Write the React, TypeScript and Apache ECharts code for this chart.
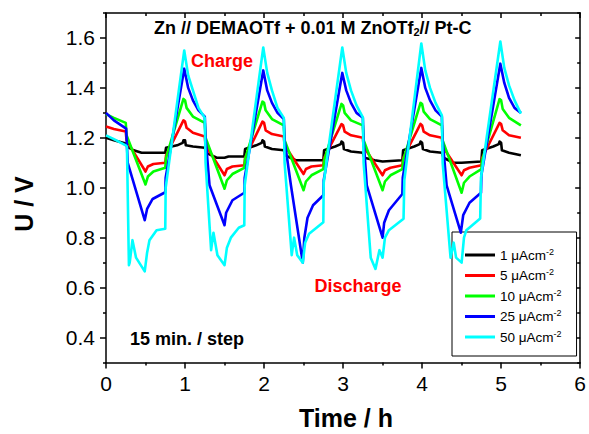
import React, { useEffect, useRef } from "react";
import * as echarts from "echarts";

const FONT = '"Liberation Sans", Arial, Helvetica, sans-serif';

const legendLabels = ["1", "5", "10", "25", "50"];
const seriesColors = ["#000000", "#ff0000", "#00ff00", "#0000ff", "#00ffff"];

const xTicks = [0, 1, 2, 3, 4, 5, 6];
const yMajorTicks = [0.4, 0.6, 0.8, 1.0, 1.2, 1.4, 1.6];
const yMinorTicks = [0.3, 0.5, 0.7, 0.9, 1.1, 1.3, 1.5, 1.7];

const black1: number[][] = [
  [0, 1.2], [0.1, 1.19], [0.25, 1.177], [0.27, 1.165], [0.35, 1.15], [0.45, 1.14], [0.5, 1.14], [0.6, 1.14], [0.75, 1.14],
  [0.76, 1.16], [0.9, 1.17], [0.97, 1.18], [0.98, 1.19], [1.0, 1.19], [1.01, 1.17], [1.1, 1.165], [1.25, 1.16],
  [1.27, 1.14], [1.4, 1.12], [1.5, 1.12], [1.55, 1.125], [1.75, 1.125],
  [1.76, 1.155], [1.9, 1.17], [1.97, 1.18], [1.98, 1.19], [2.0, 1.185], [2.01, 1.165], [2.1, 1.155], [2.25, 1.15],
  [2.27, 1.13], [2.4, 1.11], [2.5, 1.11], [2.75, 1.11],
  [2.76, 1.15], [2.9, 1.165], [2.97, 1.175], [2.98, 1.185], [3.0, 1.18], [3.01, 1.155], [3.1, 1.145], [3.25, 1.14],
  [3.27, 1.12], [3.4, 1.11], [3.5, 1.105], [3.75, 1.11],
  [3.76, 1.15], [3.9, 1.165], [3.97, 1.175], [3.98, 1.185], [4.0, 1.18], [4.01, 1.155], [4.1, 1.145], [4.25, 1.14],
  [4.27, 1.12], [4.4, 1.1], [4.5, 1.1], [4.75, 1.105],
  [4.76, 1.15], [4.9, 1.165], [4.97, 1.175], [4.98, 1.185], [5.0, 1.18], [5.01, 1.15], [5.1, 1.14], [5.25, 1.13],
];

const red5: number[][] = [
  [0, 1.245], [0.1, 1.235], [0.25, 1.225], [0.26, 1.19], [0.5, 1.065], [0.53, 1.085], [0.6, 1.095], [0.75, 1.1],
  [0.76, 1.13], [0.98, 1.27], [1.0, 1.265], [1.02, 1.24], [1.1, 1.22], [1.25, 1.205],
  [1.26, 1.17], [1.5, 1.05], [1.53, 1.075], [1.6, 1.085], [1.75, 1.09],
  [1.76, 1.12], [1.98, 1.265], [2.0, 1.26], [2.02, 1.23], [2.1, 1.215], [2.25, 1.205],
  [2.26, 1.17], [2.5, 1.055], [2.53, 1.075], [2.6, 1.085], [2.75, 1.09],
  [2.76, 1.12], [2.98, 1.255], [3.0, 1.25], [3.02, 1.225], [3.1, 1.21], [3.25, 1.2],
  [3.26, 1.165], [3.5, 1.05], [3.53, 1.07], [3.6, 1.08], [3.75, 1.09],
  [3.76, 1.12], [3.98, 1.256], [4.0, 1.25], [4.02, 1.225], [4.1, 1.21], [4.25, 1.2],
  [4.26, 1.165], [4.5, 1.05], [4.53, 1.07], [4.6, 1.08], [4.75, 1.09],
  [4.76, 1.12], [4.98, 1.26], [5.0, 1.255], [5.02, 1.23], [5.1, 1.21], [5.25, 1.2],
];

const green10: number[][] = [
  [0, 1.295], [0.1, 1.28], [0.25, 1.26], [0.26, 1.21], [0.5, 1.013], [0.53, 1.045], [0.6, 1.065], [0.75, 1.08],
  [0.76, 1.12], [0.98, 1.356], [1.0, 1.35], [1.02, 1.32], [1.1, 1.285], [1.25, 1.26],
  [1.26, 1.2], [1.5, 0.996], [1.53, 1.03], [1.6, 1.055], [1.75, 1.08],
  [1.76, 1.115], [1.98, 1.345], [2.0, 1.34], [2.02, 1.31], [2.1, 1.275], [2.25, 1.25],
  [2.26, 1.19], [2.5, 0.99], [2.53, 1.025], [2.6, 1.05], [2.75, 1.075],
  [2.76, 1.11], [2.98, 1.336], [3.0, 1.33], [3.02, 1.3], [3.1, 1.27], [3.25, 1.25],
  [3.26, 1.19], [3.5, 0.99], [3.53, 1.025], [3.6, 1.05], [3.75, 1.075],
  [3.76, 1.11], [3.98, 1.34], [4.0, 1.335], [4.02, 1.305], [4.1, 1.275], [4.25, 1.25],
  [4.26, 1.19], [4.5, 0.98], [4.53, 1.02], [4.6, 1.045], [4.75, 1.075],
  [4.76, 1.11], [4.98, 1.355], [5.0, 1.35], [5.02, 1.315], [5.1, 1.28], [5.25, 1.25],
];

const blue25: number[][] = [
  [0, 1.3], [0.1, 1.27], [0.255, 1.237], [0.275, 1.1], [0.49, 0.87], [0.52, 0.915], [0.59, 0.955], [0.75, 0.982],
  [0.755, 1.04], [0.99, 1.477], [1.04, 1.4], [1.1, 1.35], [1.17, 1.31], [1.25, 1.285],
  [1.26, 1.2], [1.31, 1.01], [1.5, 0.85], [1.52, 0.9], [1.6, 0.95], [1.75, 0.98],
  [1.755, 1.04], [1.99, 1.47], [2.04, 1.39], [2.1, 1.34], [2.17, 1.3], [2.25, 1.275],
  [2.26, 1.19], [2.34, 1.01], [2.49, 0.7], [2.51, 0.8], [2.55, 0.88], [2.62, 0.93], [2.75, 0.97],
  [2.755, 1.03], [2.99, 1.46], [3.04, 1.39], [3.1, 1.34], [3.17, 1.3], [3.25, 1.28],
  [3.26, 1.19], [3.3, 1.01], [3.5, 0.8], [3.52, 0.86], [3.58, 0.91], [3.75, 0.975],
  [3.755, 1.04], [3.99, 1.48], [4.04, 1.4], [4.1, 1.35], [4.17, 1.31], [4.25, 1.285],
  [4.26, 1.19], [4.31, 1.01], [4.49, 0.82], [4.52, 0.89], [4.6, 0.94], [4.745, 0.98],
  [4.75, 1.05], [4.99, 1.497], [5.04, 1.42], [5.1, 1.36], [5.17, 1.32], [5.25, 1.3],
];

const cyan50: number[][] = [
  [0, 1.21], [0.1, 1.195], [0.25, 1.17], [0.265, 1.165], [0.29, 0.69], [0.3, 0.7], [0.335, 0.79], [0.38, 0.72], [0.49, 0.665],
  [0.52, 0.74], [0.55, 0.79], [0.64, 0.83], [0.75, 0.836],
  [0.755, 1.0], [0.99, 1.55], [1.04, 1.45], [1.1, 1.39], [1.17, 1.32], [1.25, 1.28],
  [1.26, 1.1], [1.33, 0.75], [1.36, 0.82], [1.41, 0.73], [1.5, 0.69], [1.53, 0.76], [1.58, 0.8], [1.68, 0.84], [1.75, 0.85],
  [1.755, 1.01], [1.99, 1.562], [2.04, 1.46], [2.1, 1.39], [2.17, 1.32], [2.25, 1.28],
  [2.26, 1.1], [2.35, 0.73], [2.38, 0.8], [2.42, 0.73], [2.49, 0.7], [2.52, 0.78], [2.57, 0.816], [2.75, 0.862],
  [2.755, 1.02], [2.99, 1.562], [3.04, 1.46], [3.1, 1.39], [3.17, 1.33], [3.25, 1.282],
  [3.26, 1.1], [3.35, 0.72], [3.41, 0.675], [3.46, 0.75], [3.5, 0.72], [3.53, 0.8], [3.58, 0.83], [3.765, 0.876],
  [3.775, 1.03], [3.99, 1.578], [4.04, 1.47], [4.1, 1.4], [4.17, 1.34], [4.25, 1.29],
  [4.26, 1.1], [4.36, 0.72], [4.4, 0.78], [4.43, 0.72], [4.5, 0.7], [4.53, 0.8], [4.56, 0.83], [4.735, 0.877],
  [4.745, 1.04], [4.99, 1.586], [5.04, 1.48], [5.1, 1.41], [5.17, 1.35], [5.25, 1.297],
];

const seriesData = [black1, red5, green10, blue25, cyan50];

export default function App() {
  const ref = useRef<HTMLDivElement>(null);

  useEffect(() => {
    if (!ref.current) return;
    const chart = echarts.init(ref.current, undefined, { renderer: "svg" });
    const names = legendLabels.map((l) => `${l} μAcm-2`);
    const axisLineStyle = { color: "#000", width: 1.5 };
    const yBase = { type: "value", min: 0.3, max: 1.7, splitLine: { show: false } };

    const option: any = {
      animation: false,
      backgroundColor: "#fff",
      grid: { left: 106, top: 13, right: 6.5, bottom: 71.5, containLabel: false },
      legend: {
        data: names,
        orient: "vertical",
        left: 452,
        top: 232,
        padding: [15, 15, 12, 13],
        itemGap: 5.5,
        itemWidth: 30,
        itemHeight: 3,
        icon: "rect",
        borderColor: "#000",
        borderWidth: 1,
        backgroundColor: "#fff",
        borderRadius: 0,
        formatter: (name: string) => `{a|${name.replace("-2", "")}}{s|-2}`,
        textStyle: {
          rich: {
            a: { fontSize: 13.5, color: "#000", fontFamily: FONT, lineHeight: 16 },
            s: { fontSize: 9, color: "#000", fontFamily: FONT, lineHeight: 9, verticalAlign: "top" },
          },
        },
      },
      xAxis: [
        {
          type: "value",
          min: xTicks[0],
          max: xTicks[xTicks.length - 1],
          interval: 1,
          position: "bottom",
          axisLine: { show: true, lineStyle: axisLineStyle },
          axisTick: { show: true, length: 6, lineStyle: axisLineStyle },
          minorTick: { show: true, splitNumber: 2, length: 3, lineStyle: { color: "#000", width: 1.5 } },
          axisLabel: { fontSize: 21, color: "#000", fontFamily: FONT, margin: 10 },
          splitLine: { show: false },
        },
        {
          type: "value",
          min: xTicks[0],
          max: xTicks[xTicks.length - 1],
          interval: 1,
          position: "top",
          axisLine: { show: true, lineStyle: axisLineStyle },
          axisTick: { show: true, inside: true, length: 5, lineStyle: axisLineStyle },
          minorTick: { show: true, splitNumber: 2, length: 3, lineStyle: { color: "#000", width: 1.5 } },
          axisLabel: { show: false },
          splitLine: { show: false },
        },
      ],
      yAxis: [
        {
          ...yBase,
          position: "left",
          axisLine: { show: true, lineStyle: axisLineStyle },
          axisTick: { show: true, length: 6, customValues: yMajorTicks, lineStyle: axisLineStyle },
          axisLabel: {
            customValues: yMajorTicks,
            formatter: (v: number) => v.toFixed(1),
            fontSize: 21,
            color: "#000",
            fontFamily: FONT,
            margin: 11,
          },
        },
        {
          ...yBase,
          position: "left",
          axisLine: { show: false },
          axisTick: { show: true, length: 3, customValues: yMinorTicks, lineStyle: axisLineStyle },
          axisLabel: { show: false },
        },
        {
          ...yBase,
          position: "right",
          axisLine: { show: true, lineStyle: axisLineStyle },
          axisTick: { show: true, inside: true, length: 5, customValues: yMajorTicks, lineStyle: axisLineStyle },
          axisLabel: { show: false },
        },
        {
          ...yBase,
          position: "right",
          axisLine: { show: false },
          axisTick: { show: true, inside: true, length: 3, customValues: yMinorTicks, lineStyle: axisLineStyle },
          axisLabel: { show: false },
        },
      ],
      series: seriesData.map((d, i) => ({
        name: names[i],
        type: "line",
        data: d,
        xAxisIndex: 0,
        yAxisIndex: 0,
        showSymbol: false,
        symbol: "none",
        color: seriesColors[i],
        lineStyle: { color: seriesColors[i], width: 2.6, join: "round" },
        z: 2 + i,
      })),
      graphic: [
        {
          type: "text",
          x: 154,
          y: 28,
          z: 100,
          style: {
            text: "{a|Zn // DEMAOTf + 0.01 M ZnOTf}{s|2}{a|// Pt-C}",
            textVerticalAlign: "middle",
            align: "left",
            rich: {
              a: { fontSize: 18, fontWeight: "bold", fill: "#000", fontFamily: FONT, lineHeight: 18 },
              s: { fontSize: 11, fontWeight: "bold", fill: "#000", fontFamily: FONT, lineHeight: 4, verticalAlign: "bottom" },
            },
          },
        },
        {
          type: "text",
          x: 222,
          y: 61,
          style: { text: "Charge", fill: "#ff0000", fontSize: 18, fontWeight: "bold", fontFamily: FONT, align: "center", verticalAlign: "middle" },
        },
        {
          type: "text",
          x: 358,
          y: 286,
          style: { text: "Discharge", fill: "#ff0000", fontSize: 18, fontWeight: "bold", fontFamily: FONT, align: "center", verticalAlign: "middle" },
        },
        {
          type: "text",
          x: 130,
          y: 339,
          style: { text: "15 min. / step", fill: "#000", fontSize: 18, fontWeight: "bold", fontFamily: FONT, align: "left", verticalAlign: "middle" },
        },
        {
          type: "text",
          x: 346,
          y: 418,
          style: { text: "Time / h", fill: "#000", fontSize: 25, fontWeight: "bold", fontFamily: FONT, align: "center", verticalAlign: "middle" },
        },
        {
          type: "text",
          x: 24,
          y: 204,
          rotation: Math.PI / 2,
          style: { text: "U / V", fill: "#000", fontSize: 25, fontWeight: "bold", fontFamily: FONT, align: "center", verticalAlign: "middle" },
        },
      ],
    };

    chart.setOption(option);
    return () => chart.dispose();
  }, []);

  return (
    <div
      ref={ref}
      style={{ position: "fixed", left: 0, top: 0, width: 589, height: 434, background: "#fff" }}
    />
  );
}
